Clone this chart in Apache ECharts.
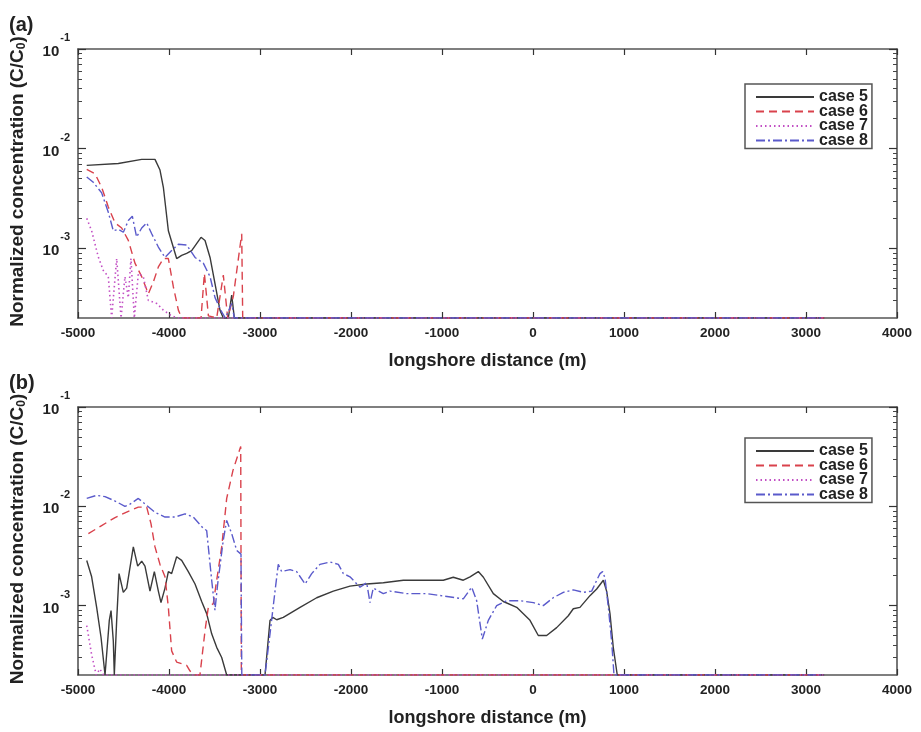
<!DOCTYPE html>
<html>
<head>
<meta charset="utf-8">
<script src="https://cdn.jsdelivr.net/npm/echarts@6/dist/echarts.min.js"></script>
<style>
html,body{margin:0;padding:0;background:#fff;}
#chart{width:921px;height:732px;}
</style>
</head>
<body>
<div id="chart"></div>
<script>
// ---- data ----
const seriesNames = ['case 5', 'case 6', 'case 7', 'case 8'];
const xTickValues = [-5000, -4000, -3000, -2000, -1000, 0, 1000, 2000, 3000, 4000];
const yMajorTicks = [1e-3, 1e-2, 1e-1];
const yMinorTicks = [3e-4,4e-4,5e-4,6e-4,7e-4,8e-4,9e-4,2e-3,3e-3,4e-3,5e-3,6e-3,7e-3,8e-3,9e-3,2e-2,3e-2,4e-2,5e-2,6e-2,7e-2,8e-2,9e-2];
const yFloor = 2e-4;

// panel (a)
const a5 = [[-4904,6.8e-3],[-4557,7.1e-3],[-4300,7.8e-3],[-4154,7.8e-3],[-4099,6.1e-3],[-4062,4.1e-3],[-4007,1.5e-3],[-3916,7.9e-4],[-3861,8.5e-4],[-3806,8.9e-4],[-3751,9.5e-4],[-3648,1.29e-3],[-3604,1.2e-3],[-3549,8.1e-4],[-3494,4.4e-4],[-3440,2.4e-4],[-3403,2e-4],[-3348,2e-4],[-3311,3.4e-4],[-3282,2e-4],[3200,2e-4]];
const a6 = [[-4904,6.2e-3],[-4813,5.6e-3],[-4740,4.1e-3],[-4667,2.6e-3],[-4593,1.8e-3],[-4520,1.6e-3],[-4447,1.2e-3],[-4374,7.1e-4],[-4300,5.2e-4],[-4227,3.5e-4],[-4172,4.6e-4],[-4117,6.5e-4],[-4062,7.9e-4],[-4007,7.9e-4],[-3952,4.1e-4],[-3897,2.4e-4],[-3860,2e-4],[-3648,2e-4],[-3611,5.6e-4],[-3567,2.1e-4],[-3476,2e-4],[-3403,5.4e-4],[-3355,2e-4],[-3293,3.3e-4],[-3201,1.4e-3],[-3190,2e-4],[3200,2e-4]];
const a7 = [[-4904,2.0e-3],[-4850,1.5e-3],[-4777,8.2e-4],[-4722,6e-4],[-4667,5.2e-4],[-4630,2e-4],[-4575,7.9e-4],[-4527,2e-4],[-4484,5.2e-4],[-4447,3.2e-4],[-4418,7.9e-4],[-4381,2e-4],[-4337,5.6e-4],[-4282,5.2e-4],[-4227,3e-4],[-4136,2.8e-4],[-4062,2.4e-4],[-3971,2.1e-4],[-3900,2e-4],[3200,2e-4]];
const a8 = [[-4904,5.2e-3],[-4832,4.6e-3],[-4740,3.6e-3],[-4667,2.3e-3],[-4612,1.5e-3],[-4557,1.55e-3],[-4502,1.45e-3],[-4447,1.9e-3],[-4403,2.1e-3],[-4356,1.3e-3],[-4300,1.6e-3],[-4245,1.8e-3],[-4190,1.4e-3],[-4117,1.03e-3],[-4044,8.1e-4],[-3971,9.5e-4],[-3897,1.1e-3],[-3806,1.08e-3],[-3714,8.1e-4],[-3623,7.1e-4],[-3549,5.2e-4],[-3494,3.2e-4],[-3421,2.3e-4],[-3380,2e-4],[-3311,2.8e-4],[-3282,2e-4],[3200,2e-4]];

// panel (b)
const b5 = [[-4904,2.85e-3],[-4850,1.95e-3],[-4795,9.6e-4],[-4747,4.8e-4],[-4703,2e-4],[-4656,7.1e-4],[-4637,8.9e-4],[-4612,4.4e-4],[-4601,2e-4],[-4575,7.1e-4],[-4549,2.1e-3],[-4502,1.36e-3],[-4465,1.5e-3],[-4436,2.2e-3],[-4392,3.9e-3],[-4344,2.5e-3],[-4300,2.8e-3],[-4264,2.5e-3],[-4209,1.4e-3],[-4161,2.2e-3],[-4117,1.4e-3],[-4088,1.07e-3],[-4044,1.5e-3],[-4007,2.2e-3],[-3971,2.1e-3],[-3916,3.1e-3],[-3861,2.85e-3],[-3788,2.2e-3],[-3714,1.65e-3],[-3641,1.1e-3],[-3586,8.3e-4],[-3531,5.2e-4],[-3476,3.8e-4],[-3421,3e-4],[-3366,2e-4],[-2945,2e-4],[-2890,7.1e-4],[-2860,7.6e-4],[-2816,7.2e-4],[-2744,7.6e-4],[-2560,9.6e-4],[-2377,1.2e-3],[-2194,1.4e-3],[-2011,1.57e-3],[-1828,1.65e-3],[-1645,1.7e-3],[-1425,1.8e-3],[-1205,1.8e-3],[-986,1.8e-3],[-876,1.93e-3],[-766,1.8e-3],[-692,1.95e-3],[-601,2.2e-3],[-545,1.93e-3],[-436,1.32e-3],[-326,1.1e-3],[-179,9.6e-4],[-33,7.1e-4],[58,5e-4],[150,5e-4],[260,6e-4],[388,7.9e-4],[443,9.3e-4],[516,9.6e-4],[626,1.26e-3],[700,1.47e-3],[773,1.8e-3],[809,1.4e-3],[846,8.3e-4],[882,3.8e-4],[926,2e-4],[3200,2e-4]];
const b6 = [[-4886,5.3e-3],[-4740,6.4e-3],[-4593,7.7e-3],[-4447,8.9e-3],[-4337,9.8e-3],[-4245,9.8e-3],[-4198,6.7e-3],[-4154,3.9e-3],[-4099,2.6e-3],[-4044,1.95e-3],[-4007,9.6e-4],[-3971,3.5e-4],[-3916,2.7e-4],[-3861,2.6e-4],[-3806,2.5e-4],[-3770,2.2e-4],[-3714,2e-4],[-3660,2e-4],[-3604,5.6e-4],[-3568,9.6e-4],[-3513,1.05e-3],[-3476,1.8e-3],[-3421,3.9e-3],[-3366,1.2e-2],[-3297,2.3e-2],[-3212,4.0e-2],[-3205,2e-4],[3200,2e-4]];
const b7 = [[-4904,6.3e-4],[-4850,3.2e-4],[-4800,2e-4],[-4760,2.3e-4],[-4720,2e-4],[3200,2e-4]];
const b8 = [[-4904,1.2e-2],[-4795,1.29e-2],[-4703,1.25e-2],[-4593,1.13e-2],[-4484,1.0e-2],[-4429,1.05e-2],[-4337,1.2e-2],[-4245,1.02e-2],[-4154,8.7e-3],[-4044,7.8e-3],[-3934,7.8e-3],[-3824,8.4e-3],[-3733,7.8e-3],[-3623,6e-3],[-3586,5.7e-3],[-3531,1.8e-3],[-3495,9e-4],[-3465,1.65e-3],[-3403,4.6e-3],[-3366,7.2e-3],[-3311,5.3e-3],[-3256,3.6e-3],[-3209,3.3e-3],[-3200,2e-4],[-2945,2e-4],[-2890,5.2e-4],[-2835,1.4e-3],[-2799,2.6e-3],[-2762,2.2e-3],[-2670,2.3e-3],[-2597,2.2e-3],[-2505,1.65e-3],[-2432,2.1e-3],[-2341,2.6e-3],[-2231,2.75e-3],[-2139,2.6e-3],[-2084,2.1e-3],[-2011,1.95e-3],[-1901,1.53e-3],[-1828,1.7e-3],[-1791,1.07e-3],[-1755,1.5e-3],[-1645,1.32e-3],[-1572,1.4e-3],[-1388,1.32e-3],[-1168,1.32e-3],[-986,1.25e-3],[-766,1.17e-3],[-674,1.53e-3],[-619,1.12e-3],[-557,4.6e-4],[-491,7.1e-4],[-399,1.0e-3],[-289,1.12e-3],[-143,1.12e-3],[4,1.07e-3],[113,1.0e-3],[223,1.2e-3],[333,1.36e-3],[443,1.44e-3],[553,1.36e-3],[645,1.4e-3],[700,1.8e-3],[736,2.1e-3],[765,2.2e-3],[791,1.9e-3],[828,9.6e-4],[864,4.4e-4],[890,2e-4],[3200,2e-4]];

const panelA = [a5, a6, a7, a8];
const panelB = [b5, b6, b7, b8];

// ---- styles ----
const FONT = "'Liberation Sans', Arial, sans-serif";
const AX = '#555';
const lineStyles = [
  { color: '#3a3a3a', type: 'solid', width: 1.4 },
  { color: '#d9424c', type: [8, 5], width: 1.4 },
  { color: '#c24fc4', type: [1.5, 3], width: 1.6 },
  { color: '#5a5acb', type: [9, 3, 2, 3], width: 1.4 }
];

const grids = [
  { left: 78, top: 49, width: 819, height: 269 },
  { left: 78, top: 407, width: 819, height: 268 }
];

const xAxes = [], yAxes = [], series = [], legends = [], titles = [];

grids.forEach((g, gi) => {
  // bottom x axis
  xAxes.push({
    type: 'value', gridIndex: gi, position: 'bottom',
    min: -5000, max: 4000, interval: 1000,
    axisLine: { show: true, onZero: false, lineStyle: { color: AX, width: 1.6 } },
    axisTick: { show: true, inside: true, length: 6, lineStyle: { color: '#333', width: 1.2 } },
    axisLabel: { color: '#222', fontSize: 13.5, fontWeight: 'bold', fontFamily: FONT, margin: 8,
      customValues: xTickValues, formatter: v => String(v) },
    splitLine: { show: false },
    name: 'longshore distance (m)', nameLocation: 'middle', nameGap: 34,
    nameTextStyle: { color: '#222', fontSize: 18, fontWeight: 'bold', fontFamily: FONT }
  });
  // top x axis (mirror)
  xAxes.push({
    type: 'value', gridIndex: gi, position: 'top',
    min: -5000, max: 4000, interval: 1000,
    axisLine: { show: true, onZero: false, lineStyle: { color: AX, width: 1.6 } },
    axisTick: { show: true, inside: true, length: 6, lineStyle: { color: '#333', width: 1.2 } },
    axisLabel: { show: false }, splitLine: { show: false }
  });
  const baseY = {
    type: 'log', logBase: 10, gridIndex: gi, min: yFloor, max: 0.1,
    splitLine: { show: false }
  };
  // left main
  yAxes.push(Object.assign({}, baseY, {
    position: 'left',
    axisLine: { show: true, onZero: false, lineStyle: { color: AX, width: 1.6 } },
    axisTick: { show: true, inside: true, length: 8, customValues: yMajorTicks, lineStyle: { color: '#333', width: 1.2 } },
    axisLabel: {
      show: true, margin: 8, customValues: yMajorTicks,
      formatter: v => '{b|10}{s|' + Math.round(Math.log10(v)) + '}',
      rich: {
        b: { fontSize: 15, fontWeight: 'bold', color: '#222', fontFamily: FONT, padding: [6, 0, 0, 0] },
        s: { fontSize: 11, fontWeight: 'bold', color: '#222', fontFamily: FONT, padding: [0, 0, 22, 1] }
      }
    },
    name: 'Normalized concentration (C/C{sub|0})',
    nameLocation: 'middle', nameGap: 50,
    nameTextStyle: {
      color: '#222', fontSize: 19, fontWeight: 'bold', fontFamily: FONT, padding: [0, 0, 0, 4],
      rich: { sub: { fontSize: 12, fontWeight: 'bold', color: '#222', fontFamily: FONT, padding: [8, 0, 0, 0] } }
    }
  }));
  // right main
  yAxes.push(Object.assign({}, baseY, {
    position: 'right',
    axisLine: { show: true, onZero: false, lineStyle: { color: AX, width: 1.6 } },
    axisTick: { show: true, inside: true, length: 8, customValues: yMajorTicks, lineStyle: { color: '#333', width: 1.2 } },
    axisLabel: { show: false }
  }));
  // minor ticks (one per side)
  ['left', 'right'].forEach(pos => {
    yAxes.push(Object.assign({}, baseY, {
      position: pos,
      axisLine: { show: false, onZero: false },
      axisTick: { show: true, inside: true, length: 4, customValues: yMinorTicks, lineStyle: { color: '#444', width: 1 } },
      axisLabel: { show: false }
    }));
  });

  const data = gi === 0 ? panelA : panelB;
  data.forEach((d, si) => {
    series.push({
      name: seriesNames[si], type: 'line',
      xAxisIndex: gi * 2, yAxisIndex: gi * 4,
      data: d, symbol: 'none', showSymbol: false, clip: true,
      lineStyle: lineStyles[si], itemStyle: { color: lineStyles[si].color },
      emphasis: { disabled: true }, animation: false
    });
  });

  legends.push({
    data: seriesNames, orient: 'vertical',
    left: 745, top: gi === 0 ? 84 : 438,
    backgroundColor: '#fff',
    borderColor: '#555', borderWidth: 1.5,
    padding: [5, 4, 0, 10],
    itemWidth: 58, itemHeight: 10, itemGap: -1.5,
    selectedMode: false,
    itemStyle: { opacity: 0 },
    textStyle: { color: '#222', fontSize: 16, fontWeight: 'bold', fontFamily: FONT }
  });

  titles.push({
    text: gi === 0 ? '(a)' : '(b)', left: 4, top: gi === 0 ? 10 : 368,
    textStyle: { color: '#222', fontSize: 20, fontWeight: 'bold', fontFamily: FONT }
  });
});

const chart = echarts.init(document.getElementById('chart'), null, { renderer: 'canvas' });
chart.setOption({
  backgroundColor: '#fff',
  animation: false,
  title: titles,
  legend: legends,
  grid: grids,
  xAxis: xAxes,
  yAxis: yAxes,
  series: series
});
</script>
</body>
</html>
